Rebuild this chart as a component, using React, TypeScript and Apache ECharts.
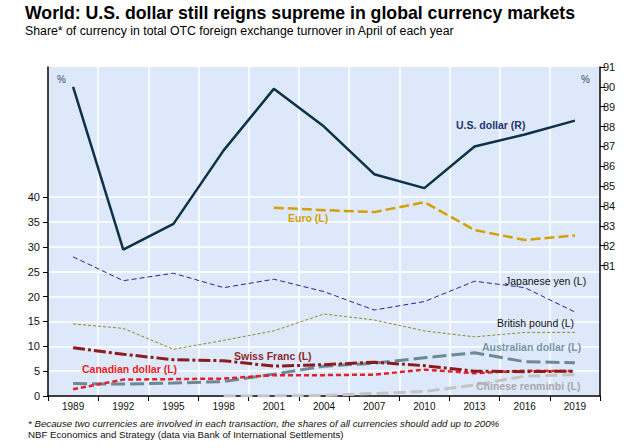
import React, { useEffect, useRef } from "react";
import * as echarts from "echarts";

const years = ["1989", "1992", "1995", "1998", "2001", "2004", "2007", "2010", "2013", "2016", "2019"];
const usDollar = [90.0, 81.8, 83.1, 86.8, 89.9, 88.0, 85.6, 84.9, 87.0, 87.6, 88.3];
const euro = [null, null, null, null, 37.9, 37.4, 37.0, 39.0, 33.4, 31.4, 32.3];
const yen = [28.0, 23.2, 24.7, 21.8, 23.5, 21.0, 17.3, 19.0, 23.1, 21.8, 16.9];
const pound = [14.5, 13.6, 9.4, 11.2, 13.1, 16.5, 15.3, 13.1, 11.9, 12.8, 12.8];
const swissFranc = [9.7, 8.4, 7.3, 7.1, 6.0, 6.3, 6.8, 6.1, 5.0, 4.9, 5.0];
const canadian = [1.35, 3.3, 3.4, 3.5, 4.2, 4.2, 4.3, 5.3, 4.6, 5.1, 5.0];
const australian = [2.5, 2.4, 2.6, 2.9, 4.4, 6.0, 6.6, 7.7, 8.7, 6.9, 6.7];
const renminbi = [null, null, null, 0.0, 0.0, 0.1, 0.5, 0.9, 2.2, 4.0, 4.3];
const leftTicks = [0, 5, 10, 15, 20, 25, 30, 35, 40];
const rightTicks = [81, 82, 83, 84, 85, 86, 87, 88, 89, 90, 91];

const FONT = "'Liberation Sans', Arial, sans-serif";

export default function App() {
  const ref = useRef<HTMLDivElement>(null);
  useEffect(() => {
    if (!ref.current) return;
    const chart = echarts.init(ref.current, null, { renderer: "svg" });
    const line = (name: string, data: any[], color: string, width: number, dash: any, yIdx = 0, z = 2) => ({
      name,
      type: "line",
      data,
      yAxisIndex: yIdx,
      symbol: "none",
      z,
      lineStyle: { color, width, type: dash, cap: "butt" },
    });
    const txt = (x: number, y: number, text: string, color: string, bold = true, size = 10.5) => ({
      type: "text",
      x,
      y,
      style: { text, fill: color, font: `${bold ? "bold " : ""}${size}px ${FONT}`, textVerticalAlign: "middle" },
      z: 10,
    });
    chart.setOption({
      animation: false,
      textStyle: { fontFamily: FONT },
      grid: {
        left: 48,
        right: 28,
        top: 67,
        bottom: 52,
        show: true,
        backgroundColor: "#dde9fb",
        borderWidth: 0,
      },
      xAxis: {
        type: "category",
        data: years,
        boundaryGap: true,
        axisLine: { lineStyle: { color: "#000", width: 1.5 } },
        axisTick: { show: true, length: 5, lineStyle: { color: "#000" } },
        axisLabel: { color: "#111", fontSize: 10, margin: 5 },
        splitLine: { show: true, interval: 0, lineStyle: { color: "#ffffff", width: 1.5 } },
      },
      yAxis: [
        {
          type: "value",
          min: 0,
          max: 66.2,
          position: "left",
          axisLine: { show: true, lineStyle: { color: "#000", width: 1.5 } },
          axisTick: { show: true, length: 5, customValues: leftTicks, lineStyle: { color: "#000" } },
          axisLabel: { color: "#111", fontSize: 11, margin: 8, customValues: leftTicks },
          splitLine: { show: true, lineStyle: { color: "#ffffff", width: 1.5 } },
        },
        {
          type: "value",
          min: 74.43,
          max: 91,
          position: "right",
          axisLine: { show: true, lineStyle: { color: "#000", width: 1.5 } },
          axisTick: { show: true, length: 5, customValues: rightTicks, lineStyle: { color: "#000" } },
          axisLabel: { color: "#111", fontSize: 11, margin: 3, customValues: rightTicks },
          splitLine: { show: false },
        },
      ],
      series: [
        line("Chinese renminbi", renminbi, "#c4c4c4", 3, [12, 5]),
        line("Australian dollar", australian, "#6e8896", 3, [14, 5], 0, 3),
        line("Canadian dollar", canadian, "#e3202b", 2.5, [5, 3], 0, 4),
        line("Swiss Franc", swissFranc, "#8c1c1c", 3, [12, 3, 3, 3], 0, 5),
        line("British pound", pound, "#8a8a1e", 1, [3, 2]),
        line("Japanese yen", yen, "#22229a", 1, [5, 3]),
        line("Euro", euro, "#d4a000", 2.5, [10, 4]),
        line("U.S. dollar", usDollar, "#0c3148", 2.5, "solid", 1, 6),
      ],
      graphic: [
        {
          type: "text",
          x: 25,
          y: 13,
          style: {
            text: "World: U.S. dollar still reigns supreme in global currency markets",
            fill: "#000",
            font: `bold 17.7px ${FONT}`,
            textVerticalAlign: "middle",
          },
        },
        {
          type: "text",
          x: 25,
          y: 31,
          style: {
            text: "Share* of currency in total OTC foreign exchange turnover in April of each year",
            fill: "#000",
            font: `12.3px ${FONT}`,
            textVerticalAlign: "middle",
          },
        },
        txt(57, 79, "%", "#3a4a6a", false, 10),
        txt(581, 79, "%", "#3a4a6a", false, 10),
        txt(456, 125, "U.S. dollar (R)", "#1f3470"),
        txt(288, 218, "Euro (L)", "#d4a000"),
        txt(505, 281, "Japanese yen (L)", "#111", false),
        txt(497, 323, "British pound (L)", "#111", false),
        txt(482, 347, "Australian dollar (L)", "#7a95a3"),
        txt(234, 356, "Swiss Franc (L)", "#8c2a2a"),
        txt(82, 369, "Canadian dollar (L)", "#ee1c24"),
        txt(476, 386, "Chinese renminbi (L)", "#a8a8a8"),
        {
          type: "text",
          x: 28,
          y: 423,
          style: {
            text: "* Because two currencies are involved in each transaction, the shares of all currencies should add up to 200%",
            fill: "#111",
            font: `italic 9.7px ${FONT}`,
            textVerticalAlign: "middle",
          },
        },
        {
          type: "text",
          x: 28,
          y: 434,
          style: {
            text: "NBF Economics and Strategy (data via Bank of International Settlements)",
            fill: "#111",
            font: `9.7px ${FONT}`,
            textVerticalAlign: "middle",
          },
        },
      ],
    });
    return () => chart.dispose();
  }, []);
  return <div ref={ref} style={{ width: 628, height: 448, position: "absolute", left: 0, top: 0 }} />;
}
